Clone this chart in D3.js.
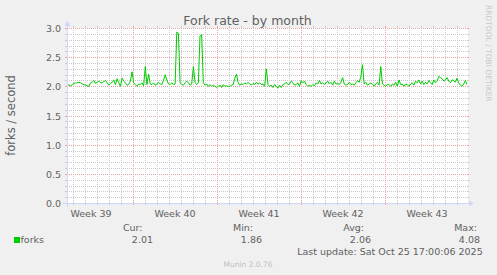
<!DOCTYPE html>
<html><head><meta charset="utf-8">
<script src="https://cdn.jsdelivr.net/npm/d3@7"></script>
<style>
body{margin:0;background:#f0f0f0}
svg{display:block;font-family:"DejaVu Sans",sans-serif}
</style>
</head><body><svg id="c" width="497" height="275"></svg>
<script>
// ---- data ----
const title = "Fork rate - by month";
const yLabel = "forks / second";
const seriesName = "forks";
const yTicks = [0, 0.5, 1, 1.5, 2, 2.5, 3];
const yTickLabels = ["0.0", "0.5", "1.0", "1.5", "2.0", "2.5", "3.0"];
const legendHeaders = ["Cur:", "Min:", "Avg:", "Max:"];
const legendValues = ["2.01", "1.86", "2.06", "4.08"];
const lastUpdate = "Last update: Sat Oct 25 17:00:06 2025";
const footer = "Munin 2.0.76";
const watermark = "RRDTOOL / TOBI OETIKER";
const rangeStart = "2025-09-22T12:00:00Z";
const rangeEnd = "2025-10-25T20:00:00Z";
const sampleStepMinutes = 199;
const forks = [
 2.03,2.02,2.01,2.03,2.05,2.06,2.06,2.07,2.06,2.04,2.03,2.02,2.01,2.00,2.06,2.07,2.10,2.05,2.07,2.09,2.06,2.06,2.08,2.10,2.06,2.02,2.05,2.07,2.11,2.03,2.13,2.06,2.00,2.14,2.09,2.06,2.02,2.03,2.09,2.25,2.06,2.03,2.00,2.04,2.03,2.06,2.01,
 2.34,2.03,2.21,2.04,2.03,2.06,2.02,2.04,2.07,2.04,2.03,2.10,2.20,2.11,2.04,2.03,2.06,2.03,2.04,2.93,2.91,2.06,2.03,2.02,2.06,2.09,2.06,2.02,2.04,2.34,2.07,2.03,2.06,2.86,2.89,2.06,2.02,2.04,2.00,2.03,2.00,2.02,2.00,1.98,2.00,2.02,1.98,2.03,2.00,
 2.01,2.00,2.00,2.02,2.03,2.14,2.21,2.06,2.02,2.04,2.03,2.06,2.04,2.07,2.04,2.02,2.05,2.03,2.07,2.04,2.06,2.03,2.04,2.00,2.30,2.03,2.00,2.02,1.98,2.03,2.00,1.97,2.02,1.98,2.03,2.04,2.07,2.03,2.04,2.09,2.06,2.02,2.03,2.06,2.00,2.10,2.06,2.09,2.03,
 2.00,2.02,2.00,2.03,2.01,2.06,2.04,2.10,2.04,2.06,2.03,2.06,2.09,2.04,2.07,2.02,2.09,2.04,2.05,2.03,2.07,2.15,2.04,2.02,2.03,2.07,2.03,2.04,2.02,2.06,2.10,2.07,2.17,2.37,2.04,2.07,2.02,2.04,2.06,2.03,2.00,2.04,2.07,2.02,2.34,2.04,2.02,2.00,2.03,
 2.03,2.00,2.04,2.02,2.07,2.00,2.11,2.03,2.04,2.00,2.04,2.03,2.00,2.04,2.06,2.02,2.09,2.06,2.11,2.04,2.09,2.03,2.07,2.04,2.10,2.06,2.03,2.11,2.06,2.09,2.17,2.15,2.13,2.09,2.11,2.15,2.09,2.06,2.11,2.10,2.07,2.14,2.06,2.02,2.00,2.04,2.10,2.03
];

// ---- layout ----
const X0 = 67, XN = 467, Y0 = 203, YN = 28;
const textCol = "#606060";
const gridCol = "#c8c8c8", mgridCol = "#e8a0a0", axisCol = "#cfd6f8";

const svg = d3.select("#c");
const start = new Date(rangeStart), end = new Date(rangeEnd);
const x = d3.scaleUtc().domain([start, end]).range([X0, XN]);
const y = d3.scaleLinear().domain([0, 3]).range([Y0, YN]);
const snap = v => Math.round(v) + 0.5;

svg.append("rect").attr("width", 497).attr("height", 275).attr("fill", "#f0f0f0");
svg.append("rect").attr("x", X0).attr("y", YN).attr("width", XN - X0 + 1).attr("height", Y0 - YN + 1).attr("fill", "#fff");

const g = svg.append("g");
// horizontal grid
const hMinor = d3.range(0, 31).map(i => i / 10);
hMinor.forEach(v => {
  const major = Math.abs(v * 2 - Math.round(v * 2)) < 1e-6;
  const yy = snap(y(v));
  const col = major ? mgridCol : gridCol;
  g.append("line").attr("x1", X0).attr("x2", XN).attr("y1", yy).attr("y2", yy)
    .attr("stroke", col).attr("stroke-dasharray", "1,1");
  g.append("line").attr("x1", X0 - 2).attr("x2", X0).attr("y1", yy).attr("y2", yy).attr("stroke", col);
  g.append("line").attr("x1", XN).attr("x2", XN + 2).attr("y1", yy).attr("y2", yy).attr("stroke", col);
});
// vertical grid
const days = d3.utcDay.range(start, end);
days.forEach(d => {
  const major = d.getUTCDay() === 0;
  const xx = snap(x(d));
  const col = major ? mgridCol : gridCol;
  g.append("line").attr("x1", xx).attr("x2", xx).attr("y1", YN).attr("y2", Y0)
    .attr("stroke", col).attr("stroke-dasharray", "1,1");
  g.append("line").attr("x1", xx).attr("x2", xx).attr("y1", Y0).attr("y2", Y0 + 2).attr("stroke", col);
  g.append("line").attr("x1", xx).attr("x2", xx).attr("y1", YN - 2).attr("y2", YN).attr("stroke", col);
});

// data line
const N = forks.length;
const pts = forks.map((v, i) => ({ t: new Date(end.getTime() - (N - 1 - i) * sampleStepMinutes * 60000), v }));
svg.append("clipPath").attr("id", "clip").append("rect")
  .attr("x", X0).attr("y", YN - 5).attr("width", XN - X0 + 1).attr("height", Y0 - YN + 6);
svg.append("path").datum(pts).attr("clip-path", "url(#clip)")
  .attr("fill", "none").attr("stroke", "#00cc00").attr("stroke-width", 1)
  .attr("d", d3.line().x(d => x(d.t)).y(d => y(d.v)));

// axes
svg.append("line").attr("x1", X0 - 4).attr("x2", XN + 4).attr("y1", Y0 + 0.5).attr("y2", Y0 + 0.5).attr("stroke", axisCol);
svg.append("line").attr("x1", X0 + 0.5).attr("x2", X0 + 0.5).attr("y1", Y0 + 4).attr("y2", YN - 4).attr("stroke", axisCol);
svg.append("path").attr("d", `M${XN + 2},${Y0 + 0.5 - 3}L${XN + 2},${Y0 + 0.5 + 3}L${XN + 7},${Y0 + 0.5}Z`).attr("fill", axisCol);
svg.append("path").attr("d", `M${X0 + 0.5 - 3},${YN - 2}L${X0 + 0.5 + 3},${YN - 2}L${X0 + 0.5},${YN - 7}Z`).attr("fill", axisCol);

// y tick labels
yTicks.forEach((v, i) => {
  svg.append("text").attr("x", 61).attr("y", snap(y(v)) + 3.5).attr("text-anchor", "end")
    .attr("font-size", "9.5px").attr("fill", textCol).text(yTickLabels[i]);
});
// x week labels
const fmtWeek = d3.utcFormat("%V");
d3.utcSunday.range(d3.utcDay.offset(start, -7), end).forEach(s => {
  const mid = new Date(s.getTime() + 3.5 * 86400000);
  if (mid < start || mid > end) return;
  svg.append("text").attr("x", x(mid)).attr("y", 216.5).attr("text-anchor", "middle")
    .attr("font-size", "9.5px").attr("fill", textCol).text("Week " + fmtWeek(mid));
});

// titles
svg.append("text").attr("x", 247.5).attr("y", 24.5).attr("text-anchor", "middle")
  .attr("font-size", "12.5px").attr("fill", textCol).text(title);
svg.append("text").attr("transform", `translate(15,${(Y0 + YN) / 2}) rotate(-90)`).attr("text-anchor", "middle")
  .attr("font-size", "11.5px").attr("fill", textCol).text(yLabel);
svg.append("text").attr("transform", "translate(485.5,5) rotate(90)").attr("text-anchor", "start")
  .attr("font-size", "7.5px").attr("fill", "#c8c8c8").text(watermark);

// legend
const hdrX = [142.5, 253, 364, 477];
const valX = [153, 262, 371, 480];
legendHeaders.forEach((h, i) => {
  svg.append("text").attr("x", hdrX[i]).attr("y", 231).attr("text-anchor", "end")
    .attr("font-size", "9.5px").attr("fill", textCol).text(h);
  svg.append("text").attr("x", valX[i]).attr("y", 243).attr("text-anchor", "end")
    .attr("font-size", "9.5px").attr("fill", textCol).text(legendValues[i]);
});
svg.append("rect").attr("x", 14).attr("y", 237).attr("width", 6).attr("height", 6).attr("fill", "#00cc00");
svg.append("text").attr("x", 20.5).attr("y", 243).attr("font-size", "9.5px").attr("fill", textCol).text(seriesName);
svg.append("text").attr("x", 482.7).attr("y", 255).attr("text-anchor", "end")
  .attr("font-size", "9.5px").attr("fill", textCol).text(lastUpdate);
svg.append("text").attr("x", 248).attr("y", 267).attr("text-anchor", "middle")
  .attr("font-size", "7.5px").attr("fill", "#c0c0c0").text(footer);
</script>
</body></html>
